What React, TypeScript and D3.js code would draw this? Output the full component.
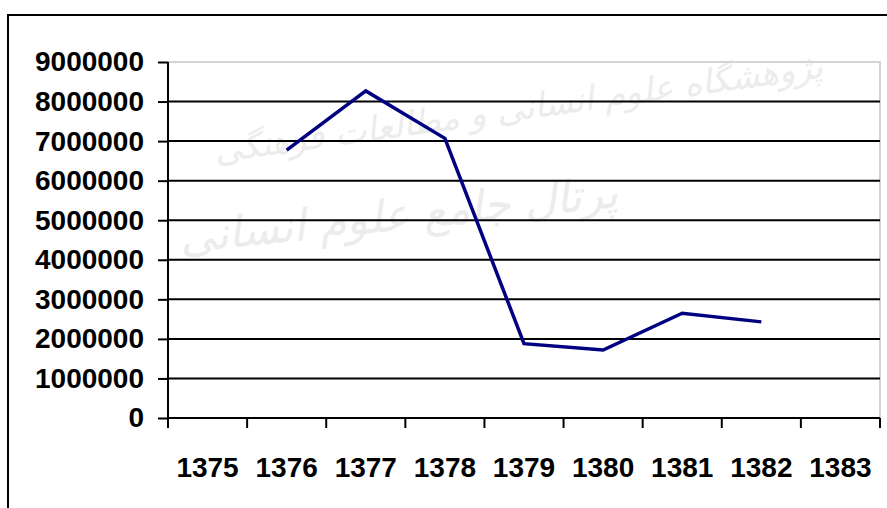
import { useEffect, useRef } from "react";
import * as d3 from "d3";

const years = ["1375", "1376", "1377", "1378", "1379", "1380", "1381", "1382", "1383"];
const values: (number | null)[] = [null, 6770000, 8270000, 7070000, 1880000, 1720000, 2650000, 2430000, null];
const yTicks = [0, 1000000, 2000000, 3000000, 4000000, 5000000, 6000000, 7000000, 8000000, 9000000];

const App = () => {
  const svgRef = useRef<SVGSVGElement>(null);
  const width = 887;
  const height = 508;
  const margin = { top: 62, right: 7, bottom: 90, left: 168 };

  useEffect(() => {
    const svg = d3.select(svgRef.current);
    svg.selectAll("*").remove();

    const x = d3
      .scaleBand<string>()
      .domain(years)
      .range([margin.left, width - margin.right])
      .padding(0);
    const y = d3
      .scaleLinear()
      .domain([0, 9000000])
      .range([height - margin.bottom, margin.top]);

    svg.append("rect").attr("width", width).attr("height", height).attr("fill", "#fff");

    // faint watermark behind the chart
    const wm = svg.append("g").attr("fill", "#ececec").attr("font-family", "DejaVu Sans").attr("font-style", "italic");
    wm.append("text")
      .attr("x", 520)
      .attr("y", 120)
      .attr("font-size", 34)
      .attr("text-anchor", "middle")
      .attr("transform", "rotate(-8 520 120)")
      .text("پژوهشگاه علوم انسانی و مطالعات فرهنگی");
    wm.append("text")
      .attr("x", 400)
      .attr("y", 230)
      .attr("font-size", 44)
      .attr("text-anchor", "middle")
      .attr("transform", "rotate(-6 400 230)")
      .text("پرتال جامع علوم انسانی");

    // outer frame
    svg.append("path")
      .attr("d", `M8,${height} V15 H${width}`)
      .attr("fill", "none")
      .attr("stroke", "#000")
      .attr("stroke-width", 2);

    // plot area border (gray)
    svg.append("path")
      .attr("d", `M${margin.left},${y(9000000)} H${width - margin.right} V${y(0)}`)
      .attr("fill", "none")
      .attr("stroke", "#d4d4d4")
      .attr("stroke-width", 2);

    // gridlines
    svg.append("g")
      .selectAll("line")
      .data(yTicks.filter((t) => t > 0 && t < 9000000))
      .enter()
      .append("line")
      .attr("x1", margin.left)
      .attr("x2", width - margin.right)
      .attr("y1", (d) => y(d))
      .attr("y2", (d) => y(d))
      .attr("stroke", "#000")
      .attr("stroke-width", 2);

    // y axis
    const yAxis = svg
      .append("g")
      .attr("transform", `translate(${margin.left},0)`)
      .call(d3.axisLeft(y).tickValues(yTicks).tickSize(10).tickPadding(14).tickFormat(d3.format("d")));
    yAxis.select(".domain").attr("stroke-width", 2).attr("d", `M0,${y(9000000)}V${y(0)}`);
    yAxis.selectAll(".tick line").attr("stroke-width", 2);
    yAxis.selectAll("text")
      .attr("font-family", "Liberation Sans, Arial, sans-serif")
      .attr("font-weight", "bold")
      .attr("font-size", 28)
      .attr("fill", "#000");

    // x axis with ticks between categories
    const xg = svg.append("g").attr("transform", `translate(0,${y(0)})`);
    xg.append("line")
      .attr("x1", margin.left)
      .attr("x2", width - margin.right)
      .attr("stroke", "#000")
      .attr("stroke-width", 2);
    const boundaries = years.map((c) => x(c) as number).concat([x.range()[1]]);
    xg.selectAll(".tk")
      .data(boundaries)
      .enter()
      .append("line")
      .attr("x1", (d) => d)
      .attr("x2", (d) => d)
      .attr("y1", 0)
      .attr("y2", 10)
      .attr("stroke", "#000")
      .attr("stroke-width", 2);
    xg.selectAll(".lbl")
      .data(years)
      .enter()
      .append("text")
      .attr("x", (d) => (x(d) as number) + x.bandwidth() / 2)
      .attr("y", 59)
      .attr("text-anchor", "middle")
      .attr("font-family", "Liberation Sans, Arial, sans-serif")
      .attr("font-weight", "bold")
      .attr("font-size", 28)
      .attr("fill", "#000")
      .text((d) => d);

    // data line
    const line = d3
      .line<number | null>()
      .defined((d) => d !== null)
      .x((_, i) => (x(years[i]) as number) + x.bandwidth() / 2)
      .y((d) => y(d as number));
    svg.append("path")
      .datum(values)
      .attr("d", line)
      .attr("fill", "none")
      .attr("stroke", "#000080")
      .attr("stroke-width", 3.5)
      .attr("stroke-linejoin", "miter");
  }, []);

  return (
    <svg
      ref={svgRef}
      width={width}
      height={height}
      style={{ position: "absolute", left: 0, top: 0 }}
    />
  );
};

export default App;
